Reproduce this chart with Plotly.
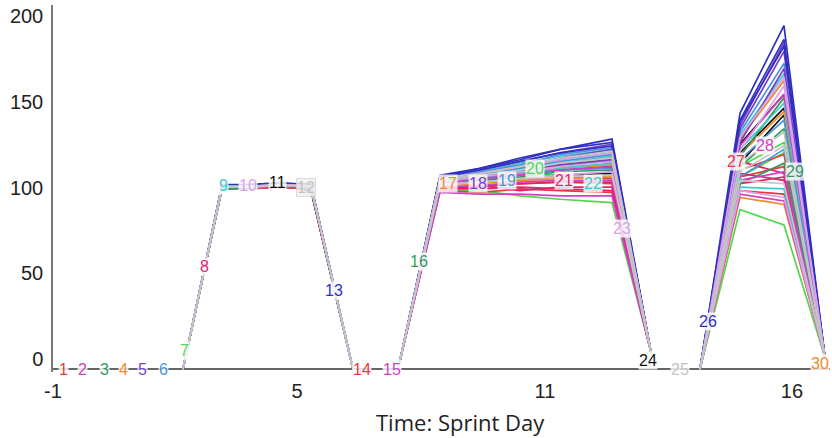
import plotly.graph_objects as go

# ---- data -------------------------------------------------------------
palette = ["#e8383d", "#d23fc6", "#2f9a5c", "#f0892a", "#7a3cc9", "#4a96de",
           "#52d64f", "#e0246c", "#3fc9c9", "#d9a3ea", "#111111", "#c4c4c4", "#3030c0"]

# vertex times (sprint-day axis) of each hump
hump1_t = [2.155, 3.102, 3.782, 4.510, 5.262, 6.282]
hump2_t = [7.374, 8.393, 9.364, 10.335, 11.306, 12.568, 13.515]
hump3_t = [14.704, 15.675, 16.743, 17.738]
hump1_ends = [0, 0]
hump2_ends = [0, 10]
hump3_ends = [0, 7]

# trajectory colour index, hump1 inner values, hump2 inner values, hump3 inner values
traj_color = [0, 1, 2, 3, 4, 5, 6, 7, 8, 9, 10, 11, 12,
              0, 1, 2, 3, 4, 5, 6, 7, 8, 9, 10, 11, 12,
              0, 1, 2, 3, 4, 5, 6, 7, 8, 9, 10, 11, 12]
traj_h1 = [
    [106, 106, 107, 105], [106.5, 106, 107, 106], [105.5, 105.5, 106.5, 105],
    [106, 106.5, 107.5, 106], [107, 107, 108, 107], [106, 106, 107, 106],
    [105.5, 106, 107, 105.5], [106, 105.5, 106.5, 105], [106.5, 107, 108, 106.5],
    [106, 106, 107, 106], [105.5, 106, 107.5, 104.5], [106.5, 106.5, 107, 106.5],
    [107, 107.5, 108.5, 107],
    [105.5, 106, 107, 105.5], [106, 106.5, 107.5, 106], [106, 106, 107, 106],
    [105.5, 105.5, 106.5, 105], [107, 107.5, 108, 107], [106.5, 106.5, 107.5, 106.5],
    [106, 106, 106.5, 105.5], [105.5, 105, 106, 105], [106.5, 107, 107.5, 106],
    [106.5, 106.5, 107.5, 107], [105, 105.5, 107, 104], [106.5, 106, 107, 106.5],
    [107, 107, 108, 107.5],
    [106, 105.5, 106.5, 105.5], [106.5, 106.5, 107, 106], [106, 106.5, 107.5, 106.5],
    [106, 106, 107, 105.5], [106.5, 107, 108, 106.5], [106, 106, 107.5, 106],
    [106, 106.5, 107, 106], [105.5, 105.5, 106, 105], [107, 107, 108, 107],
    [106.5, 106.5, 107.5, 106.5], [105.5, 106, 107, 104.5], [106, 106.5, 107.5, 106.5],
    [107.5, 107.5, 108.5, 107.5],
]
traj_h2 = [
    [106, 107, 108, 109, 108], [109, 111, 113, 116, 118], [110, 112, 115, 119, 122],
    [107, 108, 110, 111, 112], [111, 114, 118, 123, 128], [110, 113, 117, 121, 125],
    [104, 104, 101, 99, 97], [105, 105, 106, 105, 104], [109, 111, 114, 117, 120],
    [111, 114, 118, 122, 126], [108, 110, 111, 113, 114], [110, 113, 116, 120, 123],
    [112, 117, 122, 128, 134],
    [104, 103, 105, 104, 103], [106, 107, 109, 110, 110], [108, 110, 112, 115, 116],
    [109, 111, 114, 117, 119], [112, 116, 121, 126, 131], [111, 115, 119, 125, 129],
    [107, 110, 114, 113, 112], [106, 106, 108, 109, 109], [110, 113, 116, 120, 124],
    [109, 112, 115, 118, 121], [108, 110, 113, 116, 118], [111, 114, 118, 123, 127],
    [113, 117, 123, 128, 132],
    [107, 109, 111, 112, 111], [103, 102, 102, 101, 101], [110, 114, 118, 122, 126],
    [110, 112, 116, 120, 123], [109, 112, 115, 119, 122], [108, 111, 113, 116, 117],
    [108, 112, 117, 118, 119], [105, 107, 104, 106, 106], [112, 115, 120, 124, 128],
    [108, 109, 111, 113, 115], [109, 112, 116, 119, 121], [107, 109, 111, 112, 113],
    [112, 116, 121, 126, 130],
]
traj_h3 = [
    [112, 118], [130, 160], [118, 140], [125, 150], [140, 185], [122, 145], [93, 84],
    [108, 112], [128, 155], [135, 170], [120, 148], [115, 130], [149, 200],
    [104, 102], [110, 115], [124, 158], [100, 96], [132, 175], [138, 178], [118, 132],
    [114, 110], [106, 105], [127, 165], [131, 160], [120, 138], [145, 192],
    [116, 125], [102, 98], [108, 120], [134, 168], [142, 190], [112, 128], [112, 126],
    [121, 114], [136, 172], [104, 100], [126, 152], [110, 108], [144, 188],
]
draw_order = [10, 6, 0, 7, 3, 2, 8, 5, 1, 4, 12, 9, 11]

# point labels 1..30
label_text = [str(i) for i in range(1, 31)]
label_t = [-0.757, -0.272, 0.238, 0.723, 1.184, 1.670, 2.180, 2.689, 3.150, 3.733,
           4.437, 5.141, 5.820, 6.500, 7.228, 7.883, 8.587, 9.316, 10.019, 10.699,
           11.403, 12.107, 12.811, 13.442, 14.218, 14.898, 15.578, 16.282, 17.010, 17.62]
label_v = [0, 0, 0, 0, 0, 0, 11, 60, 107, 107,
           109, 106, 46, 0, 0, 63, 108, 108, 110, 117,
           110, 108, 82, 5, 0, 28, 121, 130, 115, 3.5]

tick_vals = [-1, 4.922, 10.942, 16.937]
tick_text = ["-1", "5", "11", "16"]
y_ticks = [0, 50, 100, 150, 200]
x_title = "Time: Sprint Day"

# ---- figure -----------------------------------------------------------
fig = go.Figure()
for c in draw_order:
    for i, ci in enumerate(traj_color):
        if ci != c:
            continue
        xs = hump1_t + [None] + hump2_t + [None] + hump3_t
        ys = ([hump1_ends[0]] + traj_h1[i] + [hump1_ends[1]] + [None] +
              [hump2_ends[0]] + traj_h2[i] + [hump2_ends[1]] + [None] +
              [hump3_ends[0]] + traj_h3[i] + [hump3_ends[1]])
        fig.add_trace(go.Scatter(x=xs, y=ys, mode="lines",
                                 line=dict(color=palette[ci], width=1.7),
                                 connectgaps=False, showlegend=False,
                                 hoverinfo="skip"))

for k, txt in enumerate(label_text):
    col = palette[k % 13]
    bg = "rgba(255,255,255,0.8)"
    border = "rgba(0,0,0,0)"
    if k == 11:
        bg = "rgba(240,240,240,0.8)"
        border = "rgba(210,210,210,0.8)"
    fig.add_annotation(x=label_t[k], y=label_v[k], text=txt, showarrow=False,
                       font=dict(family="Liberation Sans, Arial", size=16, color=col),
                       bgcolor=bg, bordercolor=border, borderwidth=1, borderpad=0)

L, R, T, B = 53, 2, 5, 66
W, H = 832, 438
plot_w = W - L - R
plot_h = H - T - B
fig.add_annotation(x=(460 - L) / plot_w, y=(H - B - 422) / plot_h,
                   xref="paper", yref="paper", xanchor="center", yanchor="middle",
                   text=x_title, showarrow=False,
                   font=dict(family="Open Sans", size=22, color="#222"))

fig.update_layout(
    width=W, height=H,
    margin=dict(l=L, r=R, t=T, b=B),
    plot_bgcolor="white", paper_bgcolor="white",
    showlegend=False,
    xaxis=dict(range=[-1, 17.86], tickvals=tick_vals, ticktext=tick_text,
               showgrid=False, zeroline=False, showline=False, ticks="",
               tickfont=dict(family="Liberation Sans, Arial", size=20, color="#222"),
               ticklabelstandoff=5),
    yaxis=dict(range=[-1.5, 212], tickvals=y_ticks, showgrid=False,
               zeroline=True, zerolinecolor="#666", zerolinewidth=1.5,
               showline=True, linecolor="#777", linewidth=1.5, ticks="",
               tickfont=dict(family="Liberation Sans, Arial", size=20, color="#222"),
               ticklabelshift=-10, ticklabelstandoff=4),
)

fig.write_html("out.html", config={"displayModeBar": False},
               post_script="document.body.style.margin='0px';")
